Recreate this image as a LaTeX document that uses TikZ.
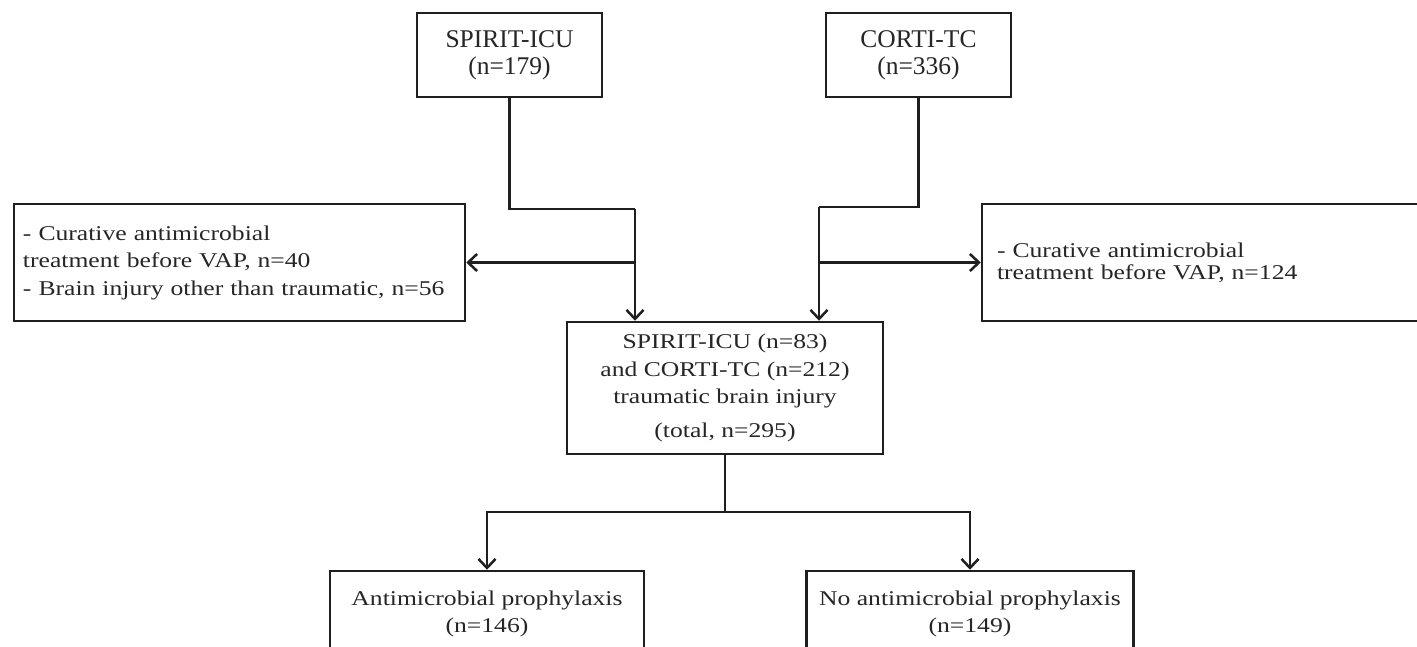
\documentclass[tikz,border=0pt]{standalone}
\usepackage{fontspec}
\setmainfont{Liberation Serif}
\newfontfamily\bodyf{Liberation Serif}[FakeStretch=1.22]
\newfontfamily\topf{Liberation Serif}
\usetikzlibrary{arrows.meta,calc}
\tikzset{
  box/.style={draw=black!88, line width=2.5pt, rectangle, inner sep=0pt, text=black!85},
  topfont/.style={font={\fontsize{25.5pt}{27pt}\topf}},
  bodyfont/.style={font={\fontsize{21pt}{27.5pt}\bodyf}},
  ln/.style={line width=2.5pt, draw=black!88},
  arr/.style={ln, -{Straight Barb[length=9pt,width=17pt,line width=2.5pt]}},
}
\begin{document}
\begin{tikzpicture}[x=1pt,y=-1pt]
\path[use as bounding box] (0,0) rectangle (1417,646);
\fill[white] (0,0) rectangle (1417,646);
\clip (0,0) rectangle (1417,646);

\node[box, topfont, minimum width=185pt, minimum height=84pt, align=center] (sp) at (509.5,55) {SPIRIT-ICU\\(n=179)};
\node[box, topfont, minimum width=185pt, minimum height=84pt, align=center] (ct) at (918.5,55) {CORTI-TC\\(n=336)};

\node[box, bodyfont, minimum width=451pt, minimum height=117pt, inner xsep=9pt, text width=433pt, align=left] (lbox) at (239.5,262.5)
  {- Curative antimicrobial\\treatment before VAP, n=40\\- Brain injury other than traumatic, n=56};
\node[box, font={\fontsize{21pt}{22pt}\bodyf}, minimum width=458pt, minimum height=117pt, inner xsep=15pt, text width=428pt, align=left] (rbox) at (1211,262.5)
  {- Curative antimicrobial\\treatment before VAP, n=124};

\node[box, bodyfont, minimum width=316pt, minimum height=132pt, align=center] (cbox) at (725,388)
  {SPIRIT-ICU (n=83)\\and CORTI-TC (n=212)\\traumatic brain injury\\[6pt](total, n=295)};

\node[box, bodyfont, minimum width=314pt, minimum height=86pt, align=center] (ab) at (487,614)
  {Antimicrobial prophylaxis\\(n=146)};
\node[box, bodyfont, minimum width=327pt, minimum height=86pt, align=center] (nb) at (970,614)
  {No antimicrobial prophylaxis\\(n=149)};

\coordinate (spk) at (635,209);
\draw[ln] (sp.south) |- (spk);
\draw[arr] (spk) -- (spk |- cbox.north);
\draw[arr] (spk |- lbox.east) -- (lbox.east);

\coordinate (ctk) at (819,207);
\draw[ln] (ct.south) |- (ctk);
\draw[arr] (ctk) -- (ctk |- cbox.north);
\draw[arr] (ctk |- rbox.west) -- (rbox.west);

\coordinate (j) at (725,512);
\draw[ln] (cbox.south) -- (j);
\draw[arr] (j) -| (ab.north);
\draw[arr] (j) -| (nb.north);
\end{tikzpicture}
\end{document}
